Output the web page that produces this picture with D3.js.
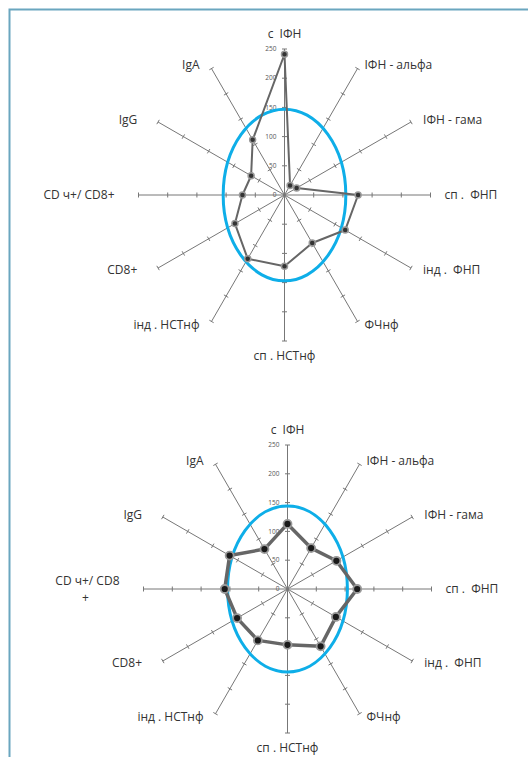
<!DOCTYPE html>
<html><head><meta charset="utf-8">
<script src="https://cdn.jsdelivr.net/npm/d3@7/dist/d3.min.js"></script>
<style>body{margin:0;background:#fff}svg{display:block}</style>
</head><body>
<script>
// ---- data ----
const categoriesTop = ["с  IФН","IФН - альфа","IФН - гама","сп .  ФНП","інд .  ФНП","ФЧнф","сп . НСТнф","інд . НСТнф","CD8+","CD ч+/ CD8+","IgG","IgA"];
const categoriesBottom = ["с  IФН","IФН - альфа","IФН - гама","сп .  ФНП","інд .  ФНП","ФЧнф","сп . НСТнф","інд . НСТнф","CD8+","CD ч+/ CD8|+","IgG","IgA"];
const valuesTop = [241,19,24,126,120,95,122,126,98,72,66,109];
const valuesBottom = [113,82,98,121,97,115,97,103,101,109,116,80];
const tickValues = [0,50,100,150,200,250];
const normTop = [105,147];     // norm ellipse semi-axes (horizontal, vertical), value units
const normBottom = [104,144];

const W = 528, H = 757;
const svg = d3.select("body").append("svg").attr("width", W).attr("height", H);

// frame
svg.append("path").attr("d", `M9.5,${H} L9.5,9.5 L${W},9.5`)
  .attr("fill","none").attr("stroke","#6aa6bf").attr("stroke-width",2);

function radar(cx, cy, R, cats, vals, norm, st) {
  const g = svg.append("g");
  const r = d3.scaleLinear().domain([0,250]).range([0,R]);
  const n = cats.length;
  const ang = d3.scaleLinear().domain([0,n]).range([0, 2*Math.PI]);
  const pt = (i, v) => [cx + r(v)*Math.sin(ang(i)), cy - r(v)*Math.cos(ang(i))];

  // axes
  cats.forEach((c,i) => {
    const [x2,y2] = pt(i,250);
    g.append("line").attr("x1",cx).attr("y1",cy).attr("x2",x2).attr("y2",y2)
      .attr("stroke","#777").attr("stroke-width",1);
    const a = ang(i), px = Math.cos(a), py = Math.sin(a);
    tickValues.filter(v => v>0).forEach(v => {
      const [x,y] = pt(i,v);
      g.append("line").attr("x1",x-2.5*px).attr("y1",y-2.5*py).attr("x2",x+2.5*px).attr("y2",y+2.5*py)
        .attr("stroke","#777").attr("stroke-width",1);
    });
  });
  // tick labels on vertical axis
  tickValues.forEach(v => {
    g.append("text").attr("x",cx-8).attr("y",cy-r(v)).attr("dy","0.35em")
      .attr("text-anchor","end").attr("font-family","Open Sans").attr("font-size",6.5)
      .attr("fill","#555").text(v);
  });
  // category labels
  cats.forEach((c,i) => {
    const a = ang(i), s = Math.sin(a), co = Math.cos(a);
    let x, y, anchor;
    if (Math.abs(s) < 0.01) { anchor="middle"; x=cx; y=cy-co*(R+15); }
    else if (s > 0) { anchor="start"; x=cx+s*(R+14); y=cy-co*(R+4); }
    else { anchor="end"; x=cx+s*(R+24); y=cy-co*(R+4); }
    const lines = c.split("|");
    const t = g.append("text").attr("text-anchor",anchor).attr("font-family","Open Sans")
      .attr("font-size",12).attr("fill","#333").style("white-space","pre");
    if (lines.length === 1) {
      t.attr("x",x).attr("y",y).attr("dy","0.35em").text(c);
    } else {
      t.attr("x",x).attr("y",y-8).attr("dy","0.35em").text(lines[0]);
      g.append("text").attr("x",x-34).attr("y",y+9).attr("dy","0.35em").attr("text-anchor","middle")
        .attr("font-family","Open Sans").attr("font-size",12).attr("fill","#333").text(lines[1]);
    }
  });
  // norm ellipse
  g.append("ellipse").attr("cx",cx).attr("cy",cy).attr("rx",r(norm[0])).attr("ry",r(norm[1]))
    .attr("fill","none").attr("stroke","#0eaee8").attr("stroke-width",3);
  // data
  const pts = vals.map((v,i) => pt(i,v));
  g.append("path").attr("d", d3.line().curve(d3.curveLinearClosed)(pts))
    .attr("fill","none").attr("stroke","#666").attr("stroke-width",st.lw).attr("stroke-linejoin","round");
  g.selectAll("circle.m").data(pts).join("circle").attr("class","m")
    .attr("cx",d=>d[0]).attr("cy",d=>d[1]).attr("r",st.mr)
    .attr("fill",st.mf).attr("stroke","#999").attr("stroke-width",st.ms);
}

radar(284.5, 195, 146, categoriesTop, valuesTop, normTop, {lw:2, mr:3, mf:"#333", ms:1.5});
radar(287.5, 589, 144, categoriesBottom, valuesBottom, normBottom, {lw:3.5, mr:4, mf:"#1a1a1a", ms:1.8});
</script>
</body></html>
